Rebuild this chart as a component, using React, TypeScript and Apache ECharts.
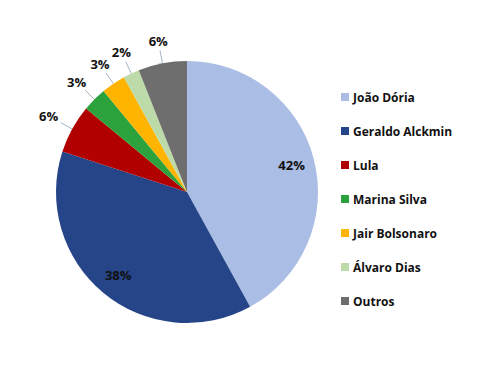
import React, { useEffect, useRef } from "react";
import * as echarts from "echarts";

const names = ["João Dória", "Geraldo Alckmin", "Lula", "Marina Silva", "Jair Bolsonaro", "Álvaro Dias", "Outros"];
const values = [42, 38, 6, 3, 3, 2, 6];
const colors = ["#A9BDE5", "#264589", "#B00000", "#2CA23C", "#FFB400", "#BDDBA8", "#6E6E6E"];
const insideNames = ["João Dória", "Geraldo Alckmin"];

const FONT = "'Open Sans', 'Noto Sans', sans-serif";
const CX = 187;
const CY = 192;
const R = 131;

export default function App() {
  const ref = useRef<HTMLDivElement>(null);
  useEffect(() => {
    const chart = echarts.init(ref.current!, undefined, { renderer: "svg" });
    const pct = (p: any) => Math.round(p.percent) + "%";
    chart.setOption({
      animation: false,
      backgroundColor: "#ffffff",
      legend: {
        orient: "vertical",
        left: 336,
        top: 85,
        itemWidth: 8,
        itemHeight: 8,
        itemGap: 20,
        icon: "rect",
        data: names,
        textStyle: { fontFamily: FONT, fontWeight: "bold", fontSize: 12, color: "#111", lineHeight: 14, padding: [0, 0, 0, -1] },
        selectedMode: false,
      },
      series: [
        {
          type: "pie",
          center: [CX, CY],
          radius: R,
          startAngle: 90,
          clockwise: true,
          avoidLabelOverlap: false,
          data: names.map((n, i) => ({
            name: n,
            value: values[i],
            itemStyle: { color: colors[i] },
            label: { show: !insideNames.includes(n) },
            labelLine: { show: !insideNames.includes(n) },
          })),
          label: {
            position: "outside",
            formatter: pct,
            fontFamily: FONT,
            fontWeight: "bold",
            fontSize: 13,
            color: "#111",
          },
          labelLine: { length: 10, length2: 8, lineStyle: { color: "#A3B1C6", width: 1 } },
          labelLayout: (params: any) => {
            const pts = params.labelLinePoints;
            if (!pts) return {};
            const p0 = pts[0];
            let ux = p0[0] - CX;
            let uy = p0[1] - CY;
            const len = Math.sqrt(ux * ux + uy * uy) || 1;
            ux /= len;
            uy /= len;
            const hw = params.labelRect.width / 2;
            const hh = params.labelRect.height / 2;
            const d = Math.min(hw / Math.max(Math.abs(ux), 1e-6), hh / Math.max(Math.abs(uy), 1e-6));
            const rEnd = R + 13;
            const rLab = rEnd + 3 + d;
            const x0 = CX + ux * R;
            const y0 = CY + uy * R;
            const x1 = CX + ux * rEnd;
            const y1 = CY + uy * rEnd;
            return {
              x: CX + ux * rLab,
              y: CY + uy * rLab,
              align: "center",
              verticalAlign: "middle",
              labelLinePoints: [
                [x0, y0],
                [x1, y1],
                [x1, y1],
              ],
            };
          },
          itemStyle: { borderWidth: 0 },
          emphasis: { disabled: true },
        },
        {
          type: "pie",
          center: [CX, CY],
          radius: [79, R],
          startAngle: 90,
          clockwise: true,
          silent: true,
          legendHoverLink: false,
          data: names.map((n, i) => ({
            name: n,
            value: values[i],
            itemStyle: { color: "rgba(0,0,0,0)" },
            label: { show: insideNames.includes(n) },
          })),
          label: {
            position: "inside",
            formatter: pct,
            fontFamily: FONT,
            fontWeight: "bold",
            fontSize: 13,
            color: "#111",
          },
          labelLine: { show: false },
          emphasis: { disabled: true },
        },
      ],
    });
    return () => chart.dispose();
  }, []);
  return <div ref={ref} style={{ position: "fixed", left: 0, top: 0, width: 500, height: 368 }} />;
}
